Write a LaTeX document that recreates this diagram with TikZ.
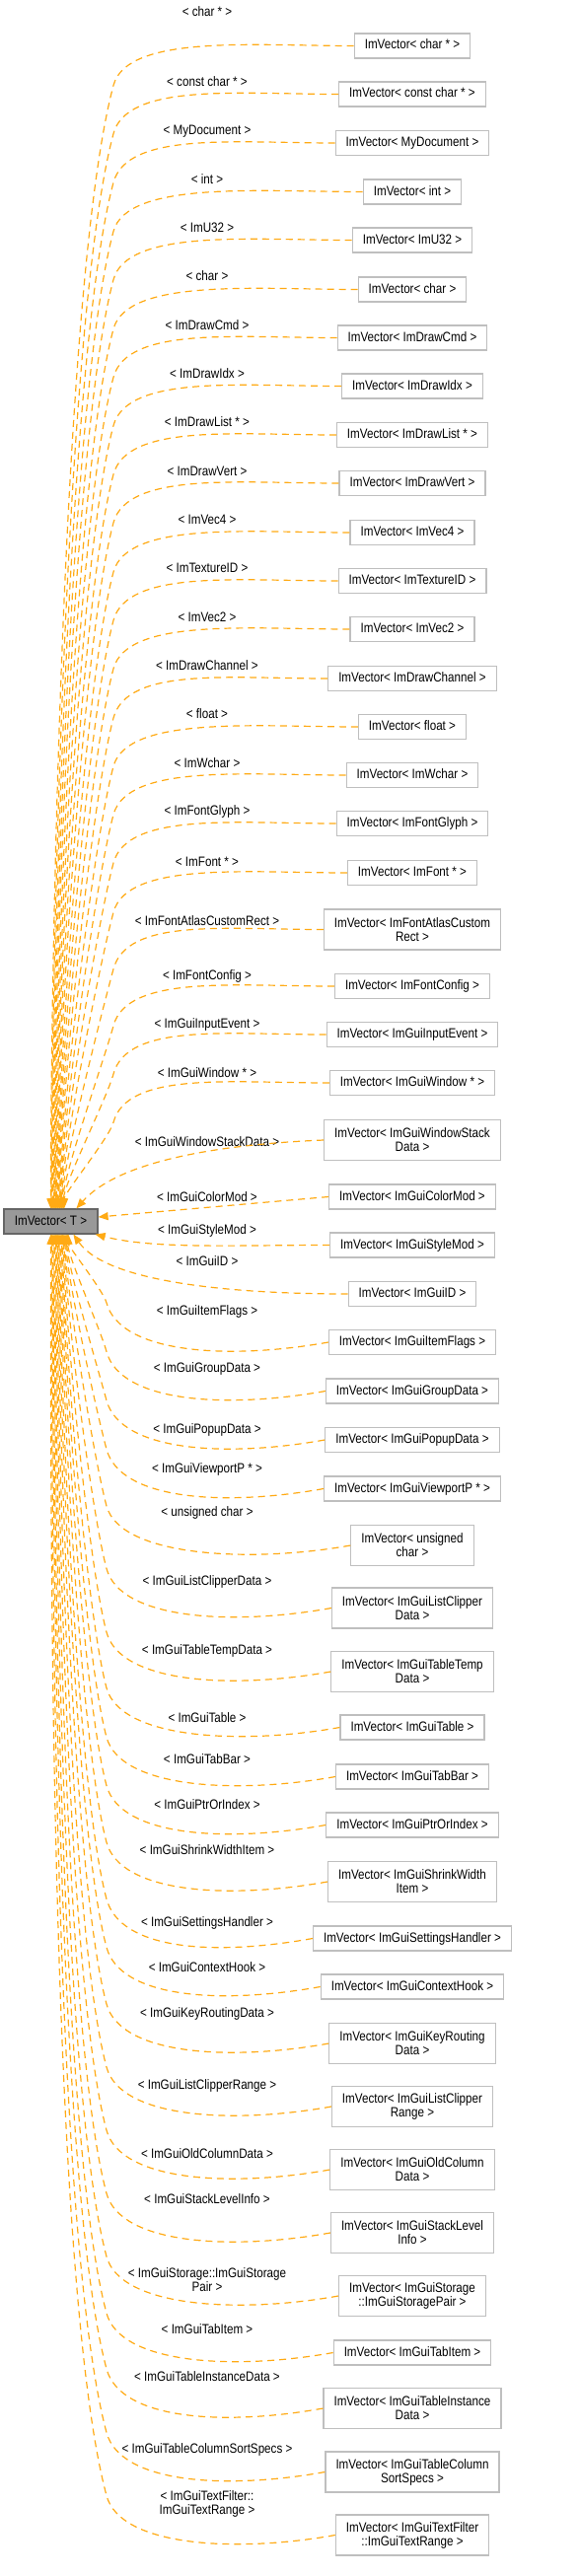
\documentclass[tikz,border=0pt]{standalone}
\usepackage{fontspec}
\setmainfont{Liberation Sans}[FakeStretch=0.85]
\usetikzlibrary{arrows.meta,calc}
\definecolor{deporange}{RGB}{255,170,20}
\definecolor{boxgray}{RGB}{191,191,191}
\definecolor{basegray}{RGB}{153,153,153}
\definecolor{basedraw}{RGB}{102,102,102}
\begin{document}
\begin{tikzpicture}[x=1pt,y=1pt,
		box/.style={draw=boxgray,line width=1.2pt,inner xsep=10.5pt,inner ysep=0pt,font=\fontsize{13.7}{14}\selectfont},
		inst/.style={box,minimum height=25pt,text height=10pt,text depth=3pt},
		inst2/.style={box,minimum height=41pt,align=center},
		basebox/.style={box,draw=basedraw,fill=basegray,minimum width=95pt,minimum height=25pt,text height=10pt,text depth=3pt},
		tmpl/.style={inner sep=0pt,align=center,font=\fontsize{13.7}{14}\selectfont},
		dep/.style={draw=deporange,line width=1.2pt,dash pattern=on 7pt off 5pt,-{Triangle[length=10pt,width=8pt]}}]
		\useasboundingbox (0,0) rectangle (587,-2612);
		\node[basebox] (vecT) at (51.5,-1238.5) {ImVector< T >};
		\node[inst] (v1) at (418,-46.5) {ImVector< char * >};
		\node[inst] (v2) at (418,-95.5) {ImVector< const char * >};
		\node[inst] (v3) at (418,-145) {ImVector< MyDocument >};
		\node[inst] (v4) at (418,-194.5) {ImVector< int >};
		\node[inst] (v5) at (418,-243.5) {ImVector< ImU32 >};
		\node[inst] (v6) at (418,-293.5) {ImVector< char >};
		\node[inst] (v7) at (418,-342.5) {ImVector< ImDrawCmd >};
		\node[inst] (v8) at (418,-391.5) {ImVector< ImDrawIdx >};
		\node[inst] (v9) at (418,-441) {ImVector< ImDrawList * >};
		\node[inst] (v10) at (418,-490) {ImVector< ImDrawVert >};
		\node[inst] (v11) at (418,-540) {ImVector< ImVec4 >};
		\node[inst] (v12) at (418,-589) {ImVector< ImTextureID >};
		\node[inst] (v13) at (418,-638) {ImVector< ImVec2 >};
		\node[inst] (v14) at (418,-688) {ImVector< ImDrawChannel >};
		\node[inst] (v15) at (418,-737) {ImVector< float >};
		\node[inst] (v16) at (418,-786) {ImVector< ImWchar >};
		\node[inst] (v17) at (418,-835) {ImVector< ImFontGlyph >};
		\node[inst] (v18) at (418,-885) {ImVector< ImFont * >};
		\node[inst2] (v19) at (418,-942.5) {ImVector< ImFontAtlasCustom\\Rect >};
		\node[inst] (v20) at (418,-1000) {ImVector< ImFontConfig >};
		\node[inst] (v21) at (418,-1049) {ImVector< ImGuiInputEvent >};
		\node[inst] (v22) at (418,-1098) {ImVector< ImGuiWindow * >};
		\node[inst2] (v23) at (418,-1156) {ImVector< ImGuiWindowStack\\Data >};
		\node[inst] (v24) at (418,-1213.5) {ImVector< ImGuiColorMod >};
		\node[inst] (v25) at (418,-1262.5) {ImVector< ImGuiStyleMod >};
		\node[inst] (v26) at (418,-1312) {ImVector< ImGuiID >};
		\node[inst] (v27) at (418,-1361) {ImVector< ImGuiItemFlags >};
		\node[inst] (v28) at (418,-1410.5) {ImVector< ImGuiGroupData >};
		\node[inst] (v29) at (418,-1460) {ImVector< ImGuiPopupData >};
		\node[inst] (v30) at (418,-1509.5) {ImVector< ImGuiViewportP * >};
		\node[inst2] (v31) at (418,-1567) {ImVector< unsigned\\char >};
		\node[inst2] (v32) at (418,-1630.5) {ImVector< ImGuiListClipper\\Data >};
		\node[inst2] (v33) at (418,-1695) {ImVector< ImGuiTableTemp\\Data >};
		\node[inst] (v34) at (418,-1751.5) {ImVector< ImGuiTable >};
		\node[inst] (v35) at (418,-1801.5) {ImVector< ImGuiTabBar >};
		\node[inst] (v36) at (418,-1850.5) {ImVector< ImGuiPtrOrIndex >};
		\node[inst2] (v37) at (418,-1908) {ImVector< ImGuiShrinkWidth\\Item >};
		\node[inst] (v38) at (418,-1965.5) {ImVector< ImGuiSettingsHandler >};
		\node[inst] (v39) at (418,-2014.5) {ImVector< ImGuiContextHook >};
		\node[inst2] (v40) at (418,-2072) {ImVector< ImGuiKeyRouting\\Data >};
		\node[inst2] (v41) at (418,-2136) {ImVector< ImGuiListClipper\\Range >};
		\node[inst2] (v42) at (418,-2200) {ImVector< ImGuiOldColumn\\Data >};
		\node[inst2] (v43) at (418,-2264) {ImVector< ImGuiStackLevel\\Info >};
		\node[inst2] (v44) at (418,-2328) {ImVector< ImGuiStorage\\::ImGuiStoragePair >};
		\node[inst] (v45) at (418,-2385.5) {ImVector< ImGuiTabItem >};
		\node[inst2] (v46) at (418,-2442) {ImVector< ImGuiTableInstance\\Data >};
		\node[inst2] (v47) at (418,-2506.5) {ImVector< ImGuiTableColumn\\SortSpecs >};
		\node[inst2] (v48) at (418,-2570.5) {ImVector< ImGuiTextFilter\\::ImGuiTextRange >};
		\node[tmpl] (t1) at (210,-12) {< char * >};
		\node[tmpl] (t2) at (210,-83) {< const char * >};
		\node[tmpl] (t3) at (210,-133) {< MyDocument >};
		\node[tmpl] (t4) at (210,-182) {< int >};
		\node[tmpl] (t5) at (210,-231) {< ImU32 >};
		\node[tmpl] (t6) at (210,-280) {< char >};
		\node[tmpl] (t7) at (210,-330) {< ImDrawCmd >};
		\node[tmpl] (t8) at (210,-379) {< ImDrawIdx >};
		\node[tmpl] (t9) at (210,-428) {< ImDrawList * >};
		\node[tmpl] (t10) at (210,-478) {< ImDrawVert >};
		\node[tmpl] (t11) at (210,-527) {< ImVec4 >};
		\node[tmpl] (t12) at (210,-576) {< ImTextureID >};
		\node[tmpl] (t13) at (210,-626) {< ImVec2 >};
		\node[tmpl] (t14) at (210,-675) {< ImDrawChannel >};
		\node[tmpl] (t15) at (210,-724) {< float >};
		\node[tmpl] (t16) at (210,-774) {< ImWchar >};
		\node[tmpl] (t17) at (210,-823) {< ImFontGlyph >};
		\node[tmpl] (t18) at (210,-874) {< ImFont * >};
		\node[tmpl] (t19) at (210,-934) {< ImFontAtlasCustomRect >};
		\node[tmpl] (t20) at (210,-990) {< ImFontConfig >};
		\node[tmpl] (t21) at (210,-1039) {< ImGuiInputEvent >};
		\node[tmpl] (t22) at (210,-1088) {< ImGuiWindow * >};
		\node[tmpl] (t23) at (210,-1158) {< ImGuiWindowStackData >};
		\node[tmpl] (t24) at (210,-1214) {< ImGuiColorMod >};
		\node[tmpl] (t25) at (210,-1248) {< ImGuiStyleMod >};
		\node[tmpl] (t26) at (210,-1279) {< ImGuiID >};
		\node[tmpl] (t27) at (210,-1330) {< ImGuiItemFlags >};
		\node[tmpl] (t28) at (210,-1388) {< ImGuiGroupData >};
		\node[tmpl] (t29) at (210,-1450) {< ImGuiPopupData >};
		\node[tmpl] (t30) at (210,-1490) {< ImGuiViewportP * >};
		\node[tmpl] (t31) at (210,-1534) {< unsigned char >};
		\node[tmpl] (t32) at (210,-1604) {< ImGuiListClipperData >};
		\node[tmpl] (t33) at (210,-1674) {< ImGuiTableTempData >};
		\node[tmpl] (t34) at (210,-1742) {< ImGuiTable >};
		\node[tmpl] (t35) at (210,-1784) {< ImGuiTabBar >};
		\node[tmpl] (t36) at (210,-1830) {< ImGuiPtrOrIndex >};
		\node[tmpl] (t37) at (210,-1876) {< ImGuiShrinkWidthItem >};
		\node[tmpl] (t38) at (210,-1950) {< ImGuiSettingsHandler >};
		\node[tmpl] (t39) at (210,-1995) {< ImGuiContextHook >};
		\node[tmpl] (t40) at (210,-2042) {< ImGuiKeyRoutingData >};
		\node[tmpl] (t41) at (210,-2115) {< ImGuiListClipperRange >};
		\node[tmpl] (t42) at (210,-2184) {< ImGuiOldColumnData >};
		\node[tmpl] (t43) at (210,-2230) {< ImGuiStackLevelInfo >};
		\node[tmpl] (t44) at (210,-2312) {< ImGuiStorage::ImGuiStorage\\Pair >};
		\node[tmpl] (t45) at (210,-2362) {< ImGuiTabItem >};
		\node[tmpl] (t46) at (210,-2410) {< ImGuiTableInstanceData >};
		\node[tmpl] (t47) at (210,-2484) {< ImGuiTableColumnSortSpecs >};
		\node[tmpl] (t48) at (210,-2538.5) {< ImGuiTextFilter::\\ImGuiTextRange >};
		\coordinate (tx) at (115,0);
		\coordinate (bx) at (108,0);
		\foreach \i/\y in {1/46.5,2/95.5,3/145,4/194.5,5/243.5,6/293.5,7/342.5,8/391.5,9/441,10/490,11/540,12/589,13/638,14/688,15/737,16/786,17/835,18/885,19/942.5,20/1000,21/1049,22/1098}{
			\pgfmathsetmacro\dx{48+0.65*(\i-1)}
			\pgfmathsetmacro\L{0.18*(1186-\y)}
			\draw[dep] (v\i.west) .. controls +(-100,0) and +(14,52) .. ($(v\i.west -| tx)+(0,-40)$) .. controls +({-0.26*\L},{-0.97*\L}) and +(0,\L) .. ([xshift=\dx pt]vecT.north west);
		}
		\draw[dep] (v23.west) .. controls +(-120,-5) and +(40,45) .. ([xshift=74pt]vecT.north west);
		\draw[dep] (v24.west) -- ([yshift=4.5pt]vecT.east);
		\draw[dep] (v25.west) .. controls +(-100,0) and +(60,-15) .. ([xshift=-3pt]vecT.south east);
		\draw[dep] (v26.west) .. controls +(-110,0) and +(35,-50) .. ([xshift=71pt]vecT.south west);
		\foreach \i/\y in {27/1361,28/1410.5,29/1460,30/1509.5,31/1567,32/1630.5,33/1695,34/1751.5,35/1801.5,36/1850.5,37/1908,38/1965.5,39/2014.5,40/2072,41/2136,42/2200,43/2264,44/2328,45/2385.5,46/2442,47/2506.5,48/2570.5}{
			\pgfmathsetmacro\dx{66-0.85*(\i-27)}
			\pgfmathsetmacro\L{0.18*(\y-1291)}
			\draw[dep] (v\i.west) .. controls +(-100,-18) and +(14,-52) .. ($(v\i.west -| bx)+(0,40)$) .. controls +({-0.26*\L},{0.97*\L}) and +(0,-\L) .. ([xshift=\dx pt]vecT.south west);
		}
\end{tikzpicture}
\end{document}
